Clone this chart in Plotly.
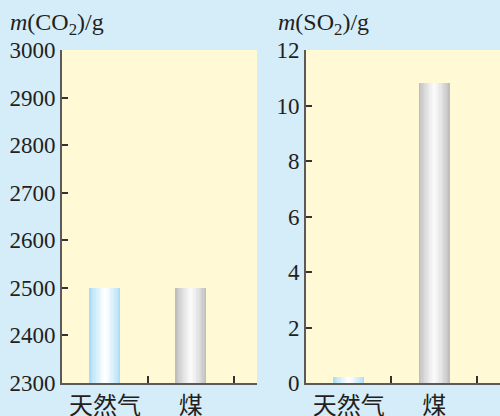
import plotly.graph_objects as go

categories = ["天然气", "煤"]
co2_values = [2500, 2500]
so2_values = [0.2, 10.8]
co2_ticks = [2300, 2400, 2500, 2600, 2700, 2800, 2900, 3000]
so2_ticks = [0, 2, 4, 6, 8, 10, 12]

W, H = 500, 416
BG = "#d5ecf9"
PLOT_BG = "#fff9d6"
AXIS = "#5a5a5a"
TXT = "#231f20"

# bar gradient: edge colour -> centre colour
EDGE = [(170, 221, 247), (190, 190, 190)]
CENTRE = [(255, 255, 255), (250, 250, 250)]
N_LAYERS = 12
BAR_W = 0.36


def mix(a, b, t):
    return "rgb(%d,%d,%d)" % tuple(round(a[i] + (b[i] - a[i]) * t) for i in range(3))


fig = go.Figure()


def add_gradient_bars(values, xaxis, yaxis):
    for k in range(N_LAYERS):
        t = k / (N_LAYERS - 1)
        w = BAR_W * (1 - k / N_LAYERS)
        colors = [mix(EDGE[i], CENTRE[i], t ** 0.8) for i in range(len(categories))]
        fig.add_trace(go.Bar(
            x=categories, y=values, width=[w] * len(categories),
            marker=dict(color=colors, line=dict(width=0)),
            xaxis=xaxis, yaxis=yaxis, showlegend=False, hoverinfo="skip",
        ))


add_gradient_bars(co2_values, "x", "y")
add_gradient_bars(so2_values, "x2", "y2")

y0 = 1 - 383 / H
y1 = 1 - 50 / H
xr = [-0.5, 1.77]

common_x = dict(
    type="category", range=xr, showline=True, linecolor=AXIS, linewidth=2,
    ticks="inside", ticklen=7, tickwidth=1.5, tickcolor="#333",
    tickson="boundaries", showgrid=False, zeroline=False,
    tickfont=dict(family="Noto Sans CJK SC", size=24, color=TXT),
    automargin=False, fixedrange=True,
)
common_y = dict(
    showline=True, linecolor=AXIS, linewidth=2,
    ticks="inside", ticklen=6, tickwidth=1.5, tickcolor="#333",
    showgrid=False, zeroline=False,
    tickfont=dict(family="Liberation Serif", size=23, color=TXT),
    automargin=False, fixedrange=True,
)

fig.update_layout(
    width=W, height=H,
    margin=dict(l=0, r=0, t=0, b=0),
    paper_bgcolor=BG, plot_bgcolor=PLOT_BG,
    barmode="overlay", bargap=0,
    xaxis=dict(domain=[62 / W, 257 / W], anchor="y", **common_x),
    yaxis=dict(domain=[y0, y1], anchor="x", range=[2300, 3000],
               tickvals=co2_ticks, **common_y),
    xaxis2=dict(domain=[306 / W, 1.0], anchor="y2", **common_x),
    yaxis2=dict(domain=[y0, y1], anchor="x2", range=[0, 12],
                tickvals=so2_ticks, **common_y),
    annotations=[
        dict(text="<i>m</i>(CO<sub>2</sub>)/g", xref="paper", yref="paper",
             x=8 / W, y=1 - 24 / H, xanchor="left", yanchor="middle",
             showarrow=False, font=dict(family="Liberation Serif", size=24, color=TXT)),
        dict(text="<i>m</i>(SO<sub>2</sub>)/g", xref="paper", yref="paper",
             x=276 / W, y=1 - 24 / H, xanchor="left", yanchor="middle",
             showarrow=False, font=dict(family="Liberation Serif", size=24, color=TXT)),
    ],
)

fig.write_html(
    "out.html",
    config={"displayModeBar": False},
    post_script="document.body.style.margin='0';document.body.style.overflow='hidden';"
                "document.body.style.background='" + BG + "';",
)
